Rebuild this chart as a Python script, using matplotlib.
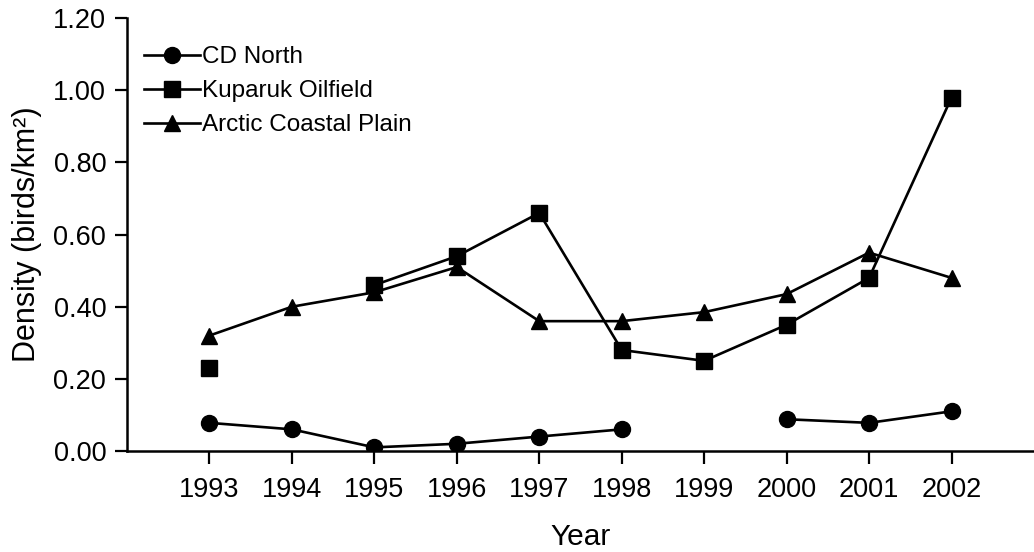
import matplotlib
matplotlib.use("Agg")
import matplotlib.pyplot as plt
import numpy as np

years = [1993, 1994, 1995, 1996, 1997, 1998, 1999, 2000, 2001, 2002]
cd_north = [0.078, 0.060, 0.010, 0.020, 0.040, 0.060, np.nan, 0.088, 0.078, 0.110]
kuparuk = [0.230, np.nan, 0.460, 0.540, 0.660, 0.280, 0.250, 0.350, 0.480, 0.980]
arctic_plain = [0.320, 0.400, 0.440, 0.510, 0.360, 0.360, 0.385, 0.435, 0.550, 0.480]
y_ticks = [0.0, 0.2, 0.4, 0.6, 0.8, 1.0, 1.2]

plt.rcParams["font.family"] = ["Liberation Sans", "DejaVu Sans"]

fig = plt.figure(figsize=(10.34, 5.52), dpi=100)
ax = fig.add_axes([0.1228, 0.183, 0.8772, 0.784])

style = dict(color="black", linewidth=1.9)
ax.plot(years, cd_north, marker="o", markersize=11.5, label="CD North", **style)
ax.plot(years, kuparuk, marker="s", markersize=11, label="Kuparuk Oilfield", **style)
ax.plot(years, arctic_plain, marker="^", markersize=12, label="Arctic Coastal Plain", **style)

ax.set_xlim(1992, 2003)
ax.set_ylim(0, 1.2)
ax.set_xticks(years)
ax.set_yticks(y_ticks)
ax.set_yticklabels([f"{v:.2f}" for v in y_ticks])
ax.tick_params(axis="both", direction="out", length=9, width=1.6, labelsize=19.5, colors="black")
ax.tick_params(axis="x", pad=10)
ax.tick_params(axis="y", pad=6)

for side in ["top", "right"]:
    ax.spines[side].set_visible(False)
for side in ["left", "bottom"]:
    ax.spines[side].set_linewidth(1.8)

ax.set_xlabel("Year", fontsize=21.5, labelpad=14)
ax.set_ylabel("Density (birds/km²)", fontsize=22, labelpad=8)

ax.legend(loc="upper left", bbox_to_anchor=(0.0, 0.975), frameon=False, fontsize=17.5,
          handlelength=2.3, handletextpad=0.1, labelspacing=0.5, borderaxespad=0.3)

fig.savefig("out.png", dpi=100, facecolor="white")
